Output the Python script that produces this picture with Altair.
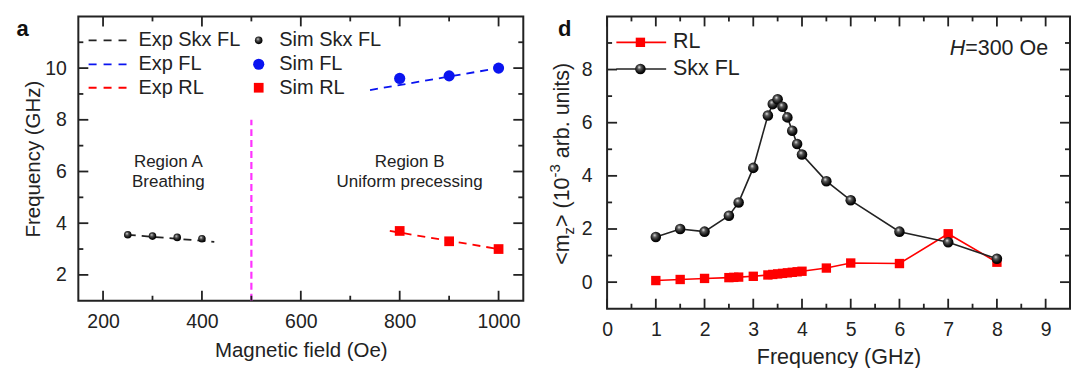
import altair as alt
import pandas as pd

FONT = "Liberation Sans"
INK = "#222222"
RED = "#ff0000"
BLUE = "#0a14f0"
MAGENTA = "#ff33ff"

# ---------------- panel a data ----------------
sim_skx_field = [250, 300, 350, 400]
sim_skx_freq = [3.55, 3.50, 3.45, 3.40]
sim_fl_field = [800, 900, 1000]
sim_fl_freq = [9.6, 9.7, 10.0]
sim_rl_field = [800, 900, 1000]
sim_rl_freq = [3.7, 3.3, 3.0]
exp_skx_field = [250, 425]
exp_skx_freq = [3.55, 3.28]
exp_fl_field = [740, 1000]
exp_fl_freq = [9.15, 10.0]
exp_rl_field = [780, 1000]
exp_rl_freq = [3.70, 3.00]
boundary_field = [500]
boundary_low = [1]
boundary_high = [8]
region_field = [332, 332, 820, 820]
region_freq = [6.36, 5.58, 6.36, 5.58]
region_text = ["Region A", "Breathing", "Region B", "Uniform precessing"]
a_x_major = [200, 400, 600, 800, 1000]
a_x_minor = [300, 500, 700, 900]
a_y_major = [2, 4, 6, 8, 10]
a_y_minor = [3, 5, 7, 9, 11]
a_legend_lines = ["Exp Skx FL", "Exp FL", "Exp RL"]
a_legend_syms = ["Sim Skx FL", "Sim FL", "Sim RL"]

# ---------------- panel d data ----------------
skx_freq = [1, 1.5, 2, 2.5, 2.7, 3, 3.3, 3.4, 3.5, 3.6, 3.7, 3.8, 3.9, 4, 4.5, 5, 6, 7, 8]
skx_mz = [1.7, 2.0, 1.9, 2.5, 3.0, 4.3, 6.27, 6.7, 6.88, 6.6, 6.2, 5.7, 5.2, 4.8, 3.8, 3.08, 1.9, 1.5, 0.88]
rl_freq = [1, 1.5, 2, 2.5, 2.6, 2.7, 3, 3.3, 3.4, 3.5, 3.6, 3.7, 3.8, 3.9, 4, 4.5, 5, 6, 7, 8]
rl_mz = [0.06, 0.1, 0.14, 0.17, 0.18, 0.19, 0.22, 0.27, 0.29, 0.31, 0.33, 0.35, 0.37,
         0.39, 0.41, 0.53, 0.72, 0.70, 1.82, 0.75]
d_x_major = [0, 1, 2, 3, 4, 5, 6, 7, 8, 9]
d_x_minor = [0.5, 1.5, 2.5, 3.5, 4.5, 5.5, 6.5, 7.5, 8.5]
d_y_major = [0, 2, 4, 6, 8]
d_y_minor = [1, 3, 5, 7, 9]

BALL = {
    "gradient": "radial",
    "x1": 0.38, "y1": 0.32, "r1": 0.0,
    "x2": 0.45, "y2": 0.45, "r2": 0.6,
    "stops": [
        {"offset": 0.0, "color": "#f4f4f4"},
        {"offset": 0.3, "color": "#5a5a5a"},
        {"offset": 0.75, "color": "#0a0a0a"},
        {"offset": 1.0, "color": "#000000"},
    ],
}

ARIAL = {'<': .584, 'm': .833, 'z': .5, '>': .584, ' ': .278, '(': .333, '1': .556, '0': .556,
         '-': .333, '3': .556, 'a': .556, 'r': .333, 'b': .556, '.': .278, 'u': .556, 'n': .556,
         'i': .222, 't': .278, 's': .5, ')': .333, '=': .584, 'O': .778, 'e': .556}


def text_width(s, size):
    return sum(ARIAL.get(c, .556) for c in s) * size


ONE = pd.DataFrame({"k": [0]})


def ticks(xs, ys, X, Y, xmaj, xmin, ymaj, ymin, W, H):
    out = []
    for vals, L in ((xmaj, 10), (xmin, 5)):
        d = pd.DataFrame({"tx": vals})
        b = alt.Chart(d).mark_rule(color=INK, strokeWidth=1.8)
        out.append(b.encode(x=X("tx"), y=alt.value(H), y2=alt.value(H - L)))
        out.append(b.encode(x=X("tx"), y=alt.value(0), y2=alt.value(L)))
    for vals, L in ((ymaj, 10), (ymin, 5)):
        d = pd.DataFrame({"ty": vals})
        b = alt.Chart(d).mark_rule(color=INK, strokeWidth=1.8)
        out.append(b.encode(y=Y("ty"), x=alt.value(0), x2=alt.value(L)))
        out.append(b.encode(y=Y("ty"), x=alt.value(W), x2=alt.value(W - L)))
    return out


# ================= panel a =================
WA, HA = 446, 285
xs_a = alt.Scale(domain=[150, 1050], nice=False, zero=False)
ys_a = alt.Scale(domain=[1, 12], nice=False, zero=False)
xax_a = alt.Axis(values=a_x_major, title="Magnetic field (Oe)", labelPadding=12.3, format="d",
                 titlePadding=8.6, labelFlush=False, labelOverlap=False)
yax_a = alt.Axis(values=a_y_major, title="Frequency (GHz)", labelPadding=12, format="d",
                 titlePadding=1.5, labelOverlap=False)


def XA(f):
    return alt.X(f, type="quantitative", scale=xs_a, axis=xax_a)


def YA(f):
    return alt.Y(f, type="quantitative", scale=ys_a, axis=yax_a)


def df2(x, y):
    return pd.DataFrame({"x": x, "y": y})


la = []
for fx, fy, col in ((exp_skx_field, exp_skx_freq, INK), (exp_fl_field, exp_fl_freq, BLUE),
                    (exp_rl_field, exp_rl_freq, RED)):
    la.append(alt.Chart(df2(fx, fy)).mark_line(color=col, strokeWidth=1.8, strokeDash=[8, 6])
              .encode(x=XA("x"), y=YA("y")))
la.append(alt.Chart(pd.DataFrame({"x": boundary_field, "y": boundary_low, "y2": boundary_high}))
          .mark_rule(color=MAGENTA, strokeWidth=2.2, strokeDash=[7, 4])
          .encode(x=XA("x"), y=YA("y"), y2="y2:Q"))
la.append(alt.Chart(df2(sim_skx_field, sim_skx_freq))
          .mark_point(shape="circle", filled=True, size=58, fill=BALL, opacity=1, strokeWidth=0)
          .encode(x=XA("x"), y=YA("y")))
la.append(alt.Chart(df2(sim_fl_field, sim_fl_freq))
          .mark_point(shape="circle", filled=True, size=125, color=BLUE, opacity=1)
          .encode(x=XA("x"), y=YA("y")))
la.append(alt.Chart(df2(sim_rl_field, sim_rl_freq))
          .mark_point(shape="square", filled=True, size=95, color=RED, opacity=1)
          .encode(x=XA("x"), y=YA("y")))
la.append(alt.Chart(pd.DataFrame({"x": region_field, "y": region_freq, "t": region_text}))
          .mark_text(fontSize=17, color=INK, align="center", baseline="middle")
          .encode(x=XA("x"), y=YA("y"), text="t:N"))

# legend of panel a
rows_a = [24, 48, 71.5]
line_cols = [INK, BLUE, RED]
for i, name in enumerate(a_legend_lines):
    la.append(alt.Chart(ONE).mark_rule(color=line_cols[i], strokeWidth=1.8, strokeDash=[8, 7])
              .encode(x=alt.value(10.3), x2=alt.value(52), y=alt.value(rows_a[i])))
    la.append(alt.Chart(ONE).mark_text(fontSize=20, color=INK, align="left", baseline="middle")
              .encode(x=alt.value(60.2), y=alt.value(rows_a[i]), text=alt.value(name)))
for i, name in enumerate(a_legend_syms):
    la.append(alt.Chart(ONE).mark_text(fontSize=20, color=INK, align="left", baseline="middle")
              .encode(x=alt.value(201.4), y=alt.value(rows_a[i]), text=alt.value(name)))
la.append(alt.Chart(ONE).mark_point(shape="circle", filled=True, size=58, fill=BALL, opacity=1, strokeWidth=0)
          .encode(x=alt.value(180.8), y=alt.value(rows_a[0])))
la.append(alt.Chart(ONE).mark_point(shape="circle", filled=True, size=125, color=BLUE, opacity=1)
          .encode(x=alt.value(180.8), y=alt.value(rows_a[1])))
la.append(alt.Chart(ONE).mark_point(shape="square", filled=True, size=95, color=RED, opacity=1)
          .encode(x=alt.value(180.8), y=alt.value(rows_a[2])))
la.append(alt.Chart(ONE).mark_text(fontSize=22, fontWeight="bold", color="#111", align="left",
                                   baseline="middle")
          .encode(x=alt.value(-62), y=alt.value(12.7), text=alt.value("a")))
la += ticks(xs_a, ys_a, XA, YA, a_x_major, a_x_minor, a_y_major, a_y_minor, WA, HA)

panel_a = alt.layer(*la).properties(width=WA, height=HA)

# ================= panel d =================
WD, HD = 464, 293
xs_d = alt.Scale(domain=[0, 9.5], nice=False, zero=False)
ys_d = alt.Scale(domain=[-1, 10], nice=False, zero=False)
xax_d = alt.Axis(values=d_x_major, title="Frequency (GHz)", labelPadding=12.3, titlePadding=7,
                 format="d", labelFlush=False, labelOverlap=False, titleFontSize=21.5)
yax_d = alt.Axis(values=d_y_major, title=None, labelPadding=15, format="d", labelOverlap=False)


def XD(f):
    return alt.X(f, type="quantitative", scale=xs_d, axis=xax_d)


def YD(f):
    return alt.Y(f, type="quantitative", scale=ys_d, axis=yax_d)


ld = []
ld.append(alt.Chart(df2(rl_freq, rl_mz)).mark_line(color=RED, strokeWidth=1.6)
          .encode(x=XD("x"), y=YD("y")))
ld.append(alt.Chart(df2(rl_freq, rl_mz))
          .mark_point(shape="square", filled=True, size=88, color=RED, opacity=1)
          .encode(x=XD("x"), y=YD("y")))
ld.append(alt.Chart(df2(skx_freq, skx_mz)).mark_line(color=INK, strokeWidth=1.6)
          .encode(x=XD("x"), y=YD("y")))
ld.append(alt.Chart(df2(skx_freq, skx_mz))
          .mark_point(shape="circle", filled=True, size=112, fill=BALL, opacity=1, strokeWidth=0)
          .encode(x=XD("x"), y=YD("y")))

# legend of panel d
rows_d = [26, 52.7]
ld.append(alt.Chart(ONE).mark_rule(color=RED, strokeWidth=1.6)
          .encode(x=alt.value(9.3), x2=alt.value(59.2), y=alt.value(rows_d[0])))
ld.append(alt.Chart(ONE).mark_point(shape="square", filled=True, size=88, color=RED, opacity=1)
          .encode(x=alt.value(33.4), y=alt.value(rows_d[0])))
ld.append(alt.Chart(ONE).mark_rule(color=INK, strokeWidth=1.6)
          .encode(x=alt.value(9.3), x2=alt.value(59.2), y=alt.value(rows_d[1])))
ld.append(alt.Chart(ONE).mark_point(shape="circle", filled=True, size=112, fill=BALL, opacity=1, strokeWidth=0)
          .encode(x=alt.value(33.4), y=alt.value(rows_d[1])))
for i, name in enumerate(["RL", "Skx FL"]):
    ld.append(alt.Chart(ONE).mark_text(fontSize=21.5, color=INK, align="left", baseline="middle")
              .encode(x=alt.value(66), y=alt.value(rows_d[i]), text=alt.value(name)))

# H=300 Oe annotation
h_rest = "=300 Oe"
h_right = 442
ld.append(alt.Chart(ONE).mark_text(fontSize=21.5, color=INK, align="right", baseline="middle")
          .encode(x=alt.value(h_right), y=alt.value(32.7), text=alt.value(h_rest)))
ld.append(alt.Chart(ONE).mark_text(fontSize=21.5, color=INK, align="right", baseline="middle",
                                   fontStyle="italic")
          .encode(x=alt.value(h_right - text_width(h_rest, 21.5)), y=alt.value(32.7), text=alt.value("H")))

# y title of panel d, composed with subscript and superscript
MAIN, SMALL = 21.5, 15
base_x = -38.1
pieces = [("<m", MAIN, 0), ("z", SMALL, 4.5), ("> (10", MAIN, 0), ("-3", SMALL, -9),
          (" arb. units)", MAIN, 0)]
ypos = 249
for s, fs, shift in pieces:
    lead = len(s) - len(s.lstrip(" "))
    ypos -= text_width(" " * lead, fs)
    core = s.lstrip(" ")
    ld.append(alt.Chart(ONE).mark_text(fontSize=fs, color=INK, align="left", baseline="alphabetic",
                                       angle=270)
              .encode(x=alt.value(base_x + shift), y=alt.value(ypos), text=alt.value(core)))
    ypos -= text_width(core, fs)

ld.append(alt.Chart(ONE).mark_text(fontSize=22, fontWeight="bold", color="#111", align="left",
                                   baseline="middle")
          .encode(x=alt.value(-49.3), y=alt.value(12.7), text=alt.value("d")))
ld += ticks(xs_d, ys_d, XD, YD, d_x_major, d_x_minor, d_y_major, d_y_minor, WD, HD)

panel_d = alt.layer(*ld).properties(width=WD, height=HD)

chart = (
    alt.hconcat(panel_a, panel_d, spacing=21)
    .properties(padding={"left": 7.5, "top": 6, "right": 0, "bottom": 0})
    .configure(font=FONT)
    .configure_view(stroke=INK, strokeWidth=2)
    .configure_axis(ticks=False, tickSize=0, domain=False, grid=False, labelFont=FONT,
                    labelFontSize=19.5, labelColor=INK, titleFont=FONT, titleFontSize=20.5,
                    titleColor=INK, titleFontWeight="normal")
)

chart.save("out.html", embed_options={"renderer": "svg", "actions": False})
